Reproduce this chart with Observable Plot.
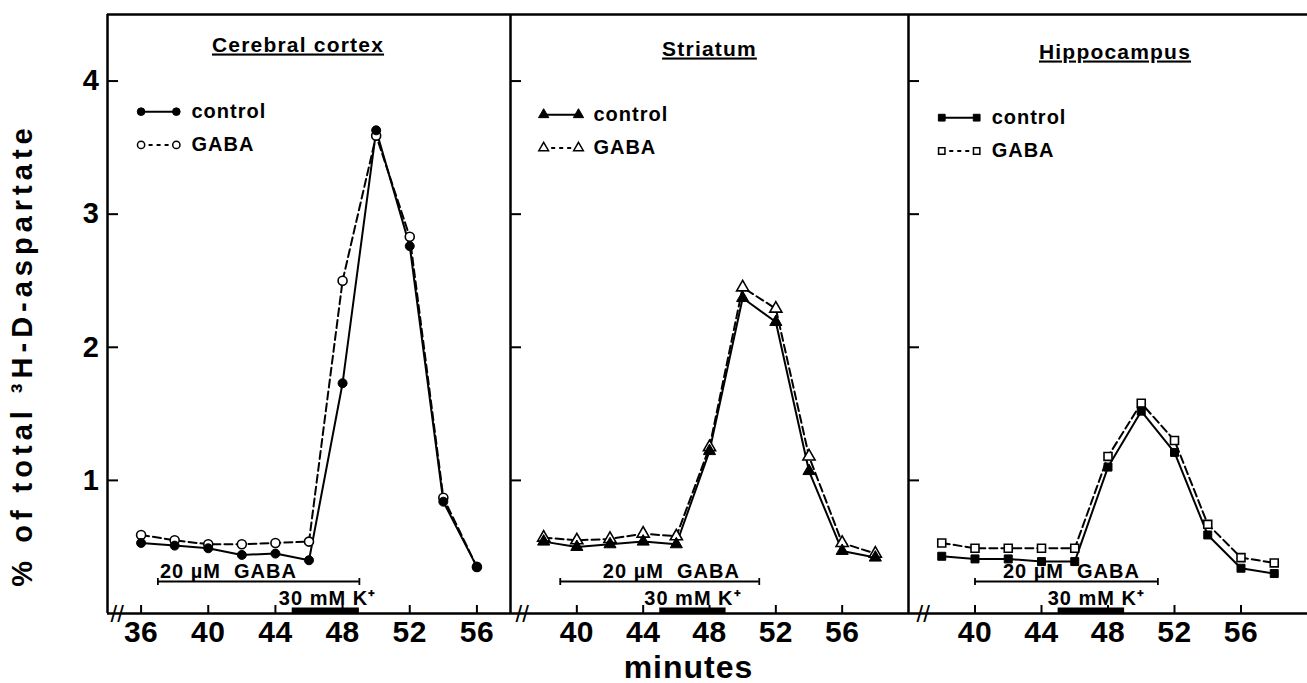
<!DOCTYPE html>
<html>
<head>
<meta charset="utf-8">
<script src="https://cdn.jsdelivr.net/npm/d3@7"></script>
<script src="https://cdn.jsdelivr.net/npm/@observablehq/plot@0.6"></script>
<style>
  html, body { margin: 0; padding: 0; background: #fff; }
  #chart { position: relative; width: 1307px; height: 683px; overflow: hidden; background: #fff; }
  #chart svg { position: absolute; top: 0; overflow: visible; }
</style>
</head>
<body>
<div id="chart"></div>
<script>
// Release of 3H-D-aspartate (% of total) per 2-min fraction, control vs 20 µM GABA
const cortexMinutes  = [36, 38, 40, 42, 44, 46, 48, 50, 52, 54, 56];
const cortexControl  = [0.53, 0.51, 0.49, 0.44, 0.45, 0.40, 1.73, 3.63, 2.76, 0.84, 0.35];
const cortexGaba     = [0.59, 0.55, 0.52, 0.52, 0.53, 0.54, 2.50, 3.59, 2.83, 0.87, 0.35];

const striatumMinutes = [38, 40, 42, 44, 46, 48, 50, 52, 54, 56, 58];
const striatumControl = [0.54, 0.50, 0.52, 0.54, 0.52, 1.22, 2.37, 2.19, 1.07, 0.47, 0.42];
const striatumGaba    = [0.57, 0.55, 0.56, 0.60, 0.58, 1.25, 2.45, 2.29, 1.18, 0.53, 0.45];

const hippoMinutes = [38, 40, 42, 44, 46, 48, 50, 52, 54, 56, 58];
const hippoControl = [0.43, 0.41, 0.41, 0.39, 0.39, 1.10, 1.52, 1.21, 0.59, 0.34, 0.30];
const hippoGaba    = [0.53, 0.49, 0.49, 0.49, 0.49, 1.18, 1.58, 1.30, 0.67, 0.42, 0.38];

// Superfusion periods (minutes) and where their labels sit on the time axis
const gabaPeriods  = [[37, 49], [39, 51], [40, 51]];
const kPeriods     = [[45, 49], [45, 49], [45, 49]];
const gabaLabelAt  = [41.2, 45.7, 45.8];
const kLabelAt     = [47.1, 47.0, 47.3];

const regionNames = ["Cerebral cortex", "Striatum", "Hippocampus"];
const seriesNames = ["control", "GABA"];
const yTicks = [1, 2, 3, 4];
const xTicksCortex = [36, 40, 44, 48, 52, 56];
const xTicksOther  = [40, 44, 48, 52, 56];

const FONT = "'Liberation Sans', Arial, Helvetica, sans-serif";
const TOP = 14, BOTTOM = 70, HEIGHT = 683;
const FRAME_H = HEIGHT - TOP - BOTTOM;

function rows(xs, ys) { return xs.map((m, i) => ({minute: m, value: ys[i]})); }

function panel(o) {
  const W = o.width - o.marginLeft;
  const control = rows(o.minutes, o.control);
  const gaba = rows(o.minutes, o.gaba);
  const d0 = o.domain[0];
  // legend key: sample line from x1 to x2, label at tx
  const key = {x1: d0 + 2.0, x2: d0 + 4.1, tx: d0 + 5.0};
  const legendControl = [{name: seriesNames[0], y: 3.77}];
  const legendGaba = [{name: seriesNames[1], y: 3.52}];
  const ends = d => [{x: key.x1, y: d.y}, {x: key.x2, y: d.y}];
  const [g0, g1] = o.gabaPeriod, [k0, k1] = o.kPeriod;
  const ldy = o.legendDy;

  const marks = [
    // frame
    Plot.ruleY([0], {strokeWidth: 2.5}),
    Plot.ruleY([4.5], {strokeWidth: 2.5}),
    Plot.ruleX([d0], {strokeWidth: 2.5}),
    // inward ticks
    Plot.tickY(yTicks, {y: d => d, insetRight: W - 11, strokeWidth: 2}),
    Plot.tickX(o.xTicks, {x: d => d, insetTop: FRAME_H - 8, strokeWidth: 2}),
    Plot.axisX(o.xTicks, {tickSize: 0, tickPadding: 7, fontSize: 30, label: null, tickFormat: d => String(d)}),
    // axis break
    Plot.text(["//"], {frameAnchor: "bottom-left", dx: o.breakDx, dy: 1, fontSize: 24, fontWeight: "normal", lineAnchor: "middle", text: d => d}),
    // GABA superfusion bar with end caps
    Plot.ruleY([0], {x1: g0, x2: g1, dy: -32, strokeWidth: 1.8}),
    Plot.tickX([g0, g1], {x: d => d, insetTop: FRAME_H - 35, insetBottom: 28, strokeWidth: 1.8}),
    Plot.text(["20 µM  GABA"], {x: o.gabaLabelAt, y: 0, dy: -36, lineAnchor: "bottom", fontSize: 20, text: d => d}),
    // K+ depolarisation bar
    Plot.ruleY([0], {x1: k0, x2: k1, dy: -3, strokeWidth: 6}),
    Plot.text(["30 mM K⁺"], {x: o.kLabelAt, y: 0, dy: -9, lineAnchor: "bottom", fontSize: 20, text: d => d}),
    // series
    Plot.line(control, {x: "minute", y: "value", stroke: "black", strokeWidth: 2}),
    Plot.line(gaba, {x: "minute", y: "value", stroke: "black", strokeWidth: 2, strokeDasharray: "8,4"}),
    Plot.dot(gaba, {x: "minute", y: "value", symbol: o.symbol, r: o.r, fill: "white", stroke: "black", strokeWidth: 1.6}),
    Plot.dot(control, {x: "minute", y: "value", symbol: o.symbol, r: o.r, fill: "black", stroke: "black", strokeWidth: 1}),
    // legend
    Plot.ruleY(legendControl, {y: "y", x1: key.x1, x2: key.x2, dy: ldy, strokeWidth: 2}),
    Plot.ruleY(legendGaba, {y: "y", x1: key.x1, x2: key.x2, dy: ldy, strokeWidth: 2, strokeDasharray: "4,4"}),
    Plot.dot(legendControl.flatMap(ends), {x: "x", y: "y", dy: ldy, symbol: o.symbol, r: o.r * 0.85, fill: "black", stroke: "black", strokeWidth: 1}),
    Plot.dot(legendGaba.flatMap(ends), {x: "x", y: "y", dy: ldy, symbol: o.symbol, r: o.r * 0.8, fill: "white", stroke: "black", strokeWidth: 1.5}),
    Plot.text(legendControl.concat(legendGaba), {x: key.tx, y: "y", dy: ldy, text: "name", textAnchor: "start", fontSize: 20}),
    // region title
    Plot.text([o.title], {frameAnchor: "top", dx: o.titleDx, dy: o.titleDy, lineAnchor: "bottom", fontSize: 21, text: d => d})
  ];
  if (o.yAxis) {
    marks.push(Plot.axisY(yTicks, {tickSize: 0, tickPadding: 8, fontSize: 29, label: null, tickFormat: d => String(d)}));
    marks.push(Plot.text(["% of total ³H-D-aspartate"], {frameAnchor: "left", textAnchor: "middle", rotate: -90, dx: -85, dy: 41, fontSize: 29, text: d => d}));
  }
  if (o.xLabel) {
    marks.push(Plot.text(["minutes"], {frameAnchor: "bottom", dx: -21, dy: 64, lineAnchor: "bottom", fontSize: 32, text: d => d}));
  }

  const svg = Plot.plot({
    width: o.width,
    height: HEIGHT,
    marginLeft: o.marginLeft,
    marginRight: 0,
    marginTop: TOP,
    marginBottom: BOTTOM,
    x: {domain: o.domain, axis: null},
    y: {domain: [0, 4.5], axis: o.yAxis ? undefined : null},
    style: {fontFamily: FONT, fontWeight: "bold", color: "black", background: "transparent", overflow: "visible"},
    marks
  });
  svg.style.left = o.left + "px";

  // letter spacing and underlines on the printed labels
  d3.select(svg).selectAll("text").each(function () {
    const t = this.textContent;
    const sel = d3.select(this);
    if (regionNames.includes(t)) sel.style("text-decoration", "underline").style("letter-spacing", "1.2px");
    else if (t.startsWith("% of")) sel.style("letter-spacing", "5px");
    else if (t === "minutes") sel.style("letter-spacing", "1px");
    else if (/GABA|mM|control/.test(t)) sel.style("letter-spacing", "1px");
    else if (/^\d+$/.test(t)) sel.style("letter-spacing", "0.5px");
  });
  return svg;
}

const chart = document.getElementById("chart");
const common = {r: 4.5};
chart.append(panel({...common, title: regionNames[0], minutes: cortexMinutes, control: cortexControl, gaba: cortexGaba,
  domain: [34, 58], left: 0, width: 510, marginLeft: 107, symbol: "circle", xTicks: xTicksCortex,
  gabaPeriod: gabaPeriods[0], kPeriod: kPeriods[0], gabaLabelAt: gabaLabelAt[0], kLabelAt: kLabelAt[0],
  titleDx: -11, titleDy: 37, breakDx: 3, legendDy: 0, yAxis: true}));
chart.append(panel({...common, title: regionNames[1], minutes: striatumMinutes, control: striatumControl, gaba: striatumGaba,
  domain: [36, 60], left: 510, width: 398, marginLeft: 0, symbol: "triangle", xTicks: xTicksOther,
  gabaPeriod: gabaPeriods[1], kPeriod: kPeriods[1], gabaLabelAt: gabaLabelAt[1], kLabelAt: kLabelAt[1],
  titleDx: 0, titleDy: 41, breakDx: 5, legendDy: 3, xLabel: true}));
chart.append(panel({...common, title: regionNames[2], minutes: hippoMinutes, control: hippoControl, gaba: hippoGaba,
  domain: [36, 60], left: 908, width: 399, marginLeft: 0, symbol: "square", xTicks: xTicksOther,
  gabaPeriod: gabaPeriods[2], kPeriod: kPeriods[2], gabaLabelAt: gabaLabelAt[2], kLabelAt: kLabelAt[2],
  titleDx: 7, titleDy: 44, breakDx: 8, legendDy: 6}));
</script>
</body>
</html>
